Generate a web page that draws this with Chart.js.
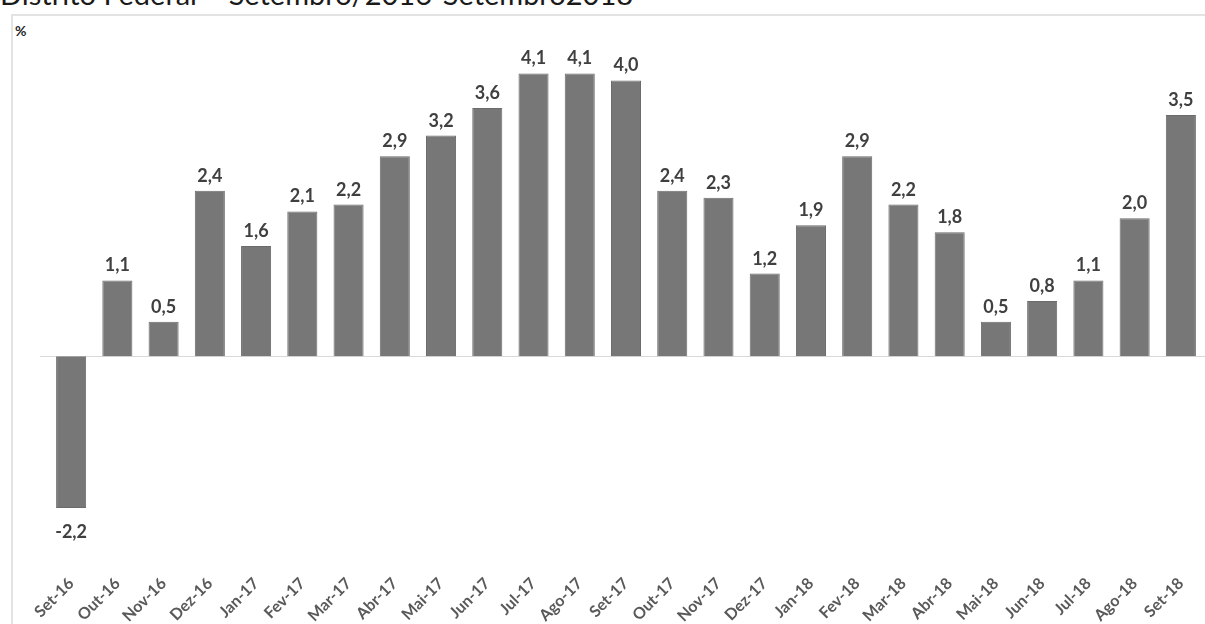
<!DOCTYPE html>
<html>
<head>
<meta charset="utf-8">
<script src="https://cdn.jsdelivr.net/npm/chart.js@4"></script>
<style>
  body { margin: 0; background: #fff; overflow: hidden; }
  #wrap { position: relative; width: 1205px; height: 624px; overflow: hidden; }
  #title {
    position: absolute; left: 0; top: -24px;
    font-family: Lato, sans-serif; font-size: 29px; color: #1a1a1a; white-space: nowrap;
  }
  #box {
    position: absolute; left: 11px; top: 14px; right: -2px; bottom: -2px;
    border-left: 2px solid #e3e3e3; border-top: 2px solid #e3e3e3;
  }
  #unit {
    position: absolute; left: 15px; top: 22px;
    font-family: Lato, sans-serif; font-size: 14px; font-weight: bold; color: #262626;
  }
  canvas { position: absolute; left: 0; top: 0; }
</style>
</head>
<body>
<div id="wrap">
  <div id="title">Distrito Federal – Setembro/2016-Setembro2018</div>
  <div id="box"></div>
  <div id="unit">%</div>
  <canvas id="ipcaChart" width="1205" height="624"></canvas>
</div>
<script>
const ctxIpca = document.getElementById("ipcaChart");

const months = [
  "Set-16", "Out-16", "Nov-16", "Dez-16", "Jan-17", "Fev-17", "Mar-17",
  "Abr-17", "Mai-17", "Jun-17", "Jul-17", "Ago-17", "Set-17", "Out-17",
  "Nov-17", "Dez-17", "Jan-18", "Fev-18", "Mar-18", "Abr-18", "Mai-18",
  "Jun-18", "Jul-18", "Ago-18", "Set-18",
];
const rates = [
  -2.2, 1.1, 0.5, 2.4, 1.6, 2.1, 2.2, 2.9, 3.2, 3.6, 4.1, 4.1, 4.0,
  2.4, 2.3, 1.2, 1.9, 2.9, 2.2, 1.8, 0.5, 0.8, 1.1, 2.0, 3.5,
];

// zero line + value labels
const barLabels = {
  id: "barLabels",
  beforeDatasetsDraw(chart) {
    const c = chart.ctx;
    const y0 = chart.scales.y.getPixelForValue(0);
    c.save();
    c.strokeStyle = "#d9d9d9";
    c.lineWidth = 1;
    c.beginPath();
    c.moveTo(chart.chartArea.left - 8, Math.round(y0) + 0.5);
    c.lineTo(chart.width, Math.round(y0) + 0.5);
    c.stroke();
    c.restore();
  },
  afterDatasetsDraw(chart) {
    const c = chart.ctx;
    const meta = chart.getDatasetMeta(0);
    c.save();
    c.font = "bold 18px Lato, sans-serif";
    c.fillStyle = "#404040";
    c.textAlign = "center";
    c.textBaseline = "alphabetic";
    meta.data.forEach((bar, i) => {
      const v = rates[i];
      const txt = v.toFixed(1).replace(".", ",");
      if (v >= 0) {
        c.fillText(txt, bar.x, bar.y - 9);
      } else {
        c.fillText(txt, bar.x, bar.y + 30);
      }
    });
    c.restore();
  },
};

new Chart(ctxIpca, {
  type: "bar",
  plugins: [barLabels],
  options: {
    responsive: false,
    animation: false,
    devicePixelRatio: 1,
    layout: {
      padding: { left: 48, right: 1, top: 39, bottom: 2 },
    },
    plugins: {
      legend: { display: false },
      title: { display: false },
      tooltip: { enabled: false },
    },
    scales: {
      x: {
        // invisible ticks push the labels down without widening the side padding
        grid: {
          display: true,
          color: "rgba(0,0,0,0)",
          drawOnChartArea: false,
          drawTicks: true,
          tickLength: 28,
        },
        border: { display: false },
        afterFit: (scale) => { scale.height = 76; },
        ticks: {
          autoSkip: false,
          minRotation: 45,
          maxRotation: 45,
          padding: 0,
          color: "#595959",
          font: { family: "Lato, sans-serif", size: 16, weight: "bold" },
        },
      },
      y: {
        display: false,
        min: -2.75,
        max: 4.6,
      },
    },
  },
  data: {
    labels: months,
    datasets: [
      {
        label: "%",
        data: rates,
        backgroundColor: "#777777",
        borderColor: "#6b6b6b",
        borderWidth: 1,
        categoryPercentage: 1,
        barPercentage: 0.65,
      },
    ],
  },
});
</script>
</body>
</html>
